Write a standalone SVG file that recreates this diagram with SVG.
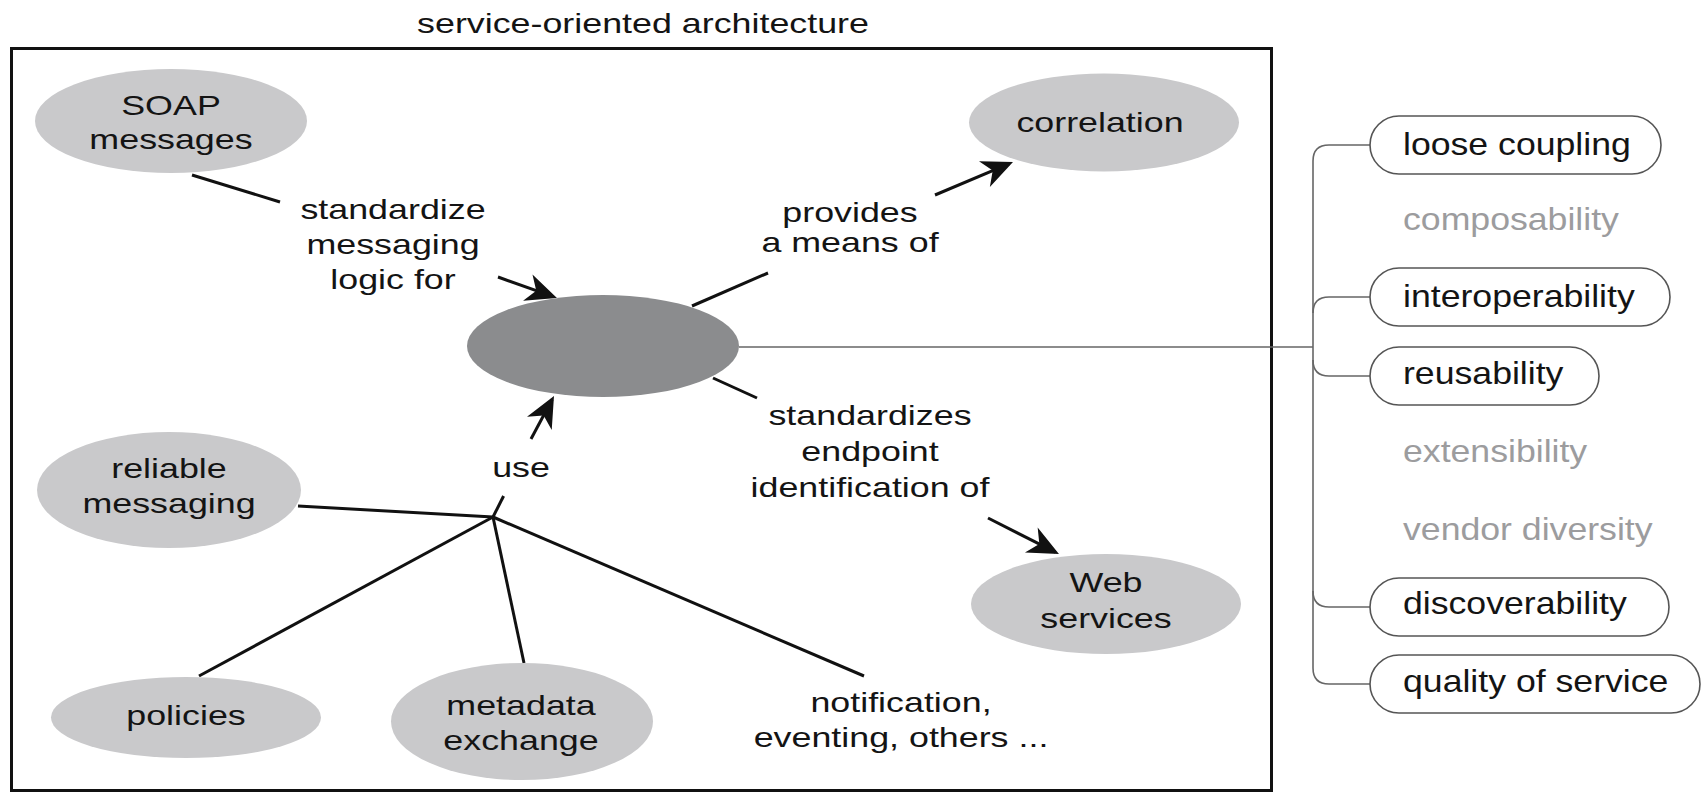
<svg xmlns="http://www.w3.org/2000/svg" width="1704" height="794" viewBox="0 0 1704 794">
<style>
.lt{font-family:"Liberation Sans",Arial,sans-serif;font-size:28px;fill:#141414;text-anchor:middle}
.pt{font-family:"Liberation Sans",Arial,sans-serif;font-size:31px;fill:#141414}
.gt{font-family:"Liberation Sans",Arial,sans-serif;font-size:31px;fill:#9c9c9e}
.ell{fill:#c9c9cb}
.core{fill:#8b8c8e}
.pill{fill:#ffffff;stroke:#555;stroke-width:1.6}
.ln{stroke:#111;stroke-width:3;fill:none}
.arr{stroke:#111;stroke-width:3;fill:none;marker-end:url(#ah)}
.br{stroke:#666;stroke-width:1.6;fill:none}
</style>
<defs>
<marker id="ah" markerUnits="userSpaceOnUse" orient="auto" refX="-4" refY="0" markerWidth="40" markerHeight="40" overflow="visible">
<path d="M0,0 L-31,-14 L-22,0 L-31,14 Z" fill="#111"/>
</marker>
</defs>
<rect width="1704" height="794" fill="#ffffff"/>

<g id="title">
<text class="lt" transform="translate(643,33) scale(1.28,1)">service-oriented architecture</text>
</g>
<g id="soa-frame">
<rect x="11.5" y="48.5" width="1260" height="742" fill="none" stroke="#111" stroke-width="3"/>
</g>

<g id="connectors">
<line class="ln" x1="192" y1="175" x2="280" y2="202"/>
<line class="arr" x1="498" y1="277" x2="553.2" y2="296.7"/>
<line class="ln" x1="692" y1="306" x2="768" y2="273"/>
<line class="arr" x1="935" y1="195" x2="1009.3" y2="163.6"/>
<line class="ln" x1="713" y1="378" x2="757" y2="398"/>
<line class="arr" x1="988" y1="518" x2="1055.4" y2="552.2"/>
<line class="arr" x1="531" y1="439" x2="552.1" y2="399.5"/>
<line class="ln" x1="503.6" y1="496" x2="493" y2="517"/>
<line class="ln" x1="493" y1="517" x2="298" y2="506"/>
<line class="ln" x1="493" y1="517" x2="199" y2="676"/>
<line class="ln" x1="493" y1="517" x2="524" y2="663"/>
<line class="ln" x1="493" y1="517" x2="864" y2="676"/>
<path class="br" d="M739,347 H1313"/>
<path class="br" d="M1370,145 H1329 Q1313,145 1313,161 V668 Q1313,684 1329,684 H1370"/>
<path class="br" d="M1313,313 Q1313,297 1329,297 H1370"/>
<path class="br" d="M1313,360 Q1313,376 1329,376 H1370"/>
<path class="br" d="M1313,591 Q1313,607 1329,607 H1370"/>
</g>

<g id="soap-messages">
<ellipse class="ell" cx="171" cy="121" rx="136" ry="52"/>
<text class="lt" transform="translate(171,115) scale(1.28,1)">SOAP</text>
<text class="lt" transform="translate(171,149) scale(1.28,1)">messages</text>
</g>
<g id="correlation">
<ellipse class="ell" cx="1104" cy="122.5" rx="135" ry="49"/>
<text class="lt" transform="translate(1100,132) scale(1.28,1)">correlation</text>
</g>
<g id="core">
<ellipse class="core" cx="603" cy="346" rx="136" ry="51"/>
</g>
<g id="web-services">
<ellipse class="ell" cx="1106" cy="604" rx="135" ry="50"/>
<text class="lt" transform="translate(1106,592) scale(1.28,1)">Web</text>
<text class="lt" transform="translate(1106,628) scale(1.28,1)">services</text>
</g>
<g id="reliable-messaging">
<ellipse class="ell" cx="169" cy="490" rx="132" ry="58"/>
<text class="lt" transform="translate(169,478) scale(1.28,1)">reliable</text>
<text class="lt" transform="translate(169,513) scale(1.28,1)">messaging</text>
</g>
<g id="policies">
<ellipse class="ell" cx="186" cy="717.5" rx="135" ry="40.5"/>
<text class="lt" transform="translate(186,725) scale(1.28,1)">policies</text>
</g>
<g id="metadata-exchange">
<ellipse class="ell" cx="522" cy="721.5" rx="131" ry="58.5"/>
<text class="lt" transform="translate(521,715) scale(1.28,1)">metadata</text>
<text class="lt" transform="translate(521,750) scale(1.28,1)">exchange</text>
</g>
<g id="notification-eventing">
<text class="lt" transform="translate(901,712) scale(1.28,1)">notification,</text>
<text class="lt" transform="translate(901,747) scale(1.28,1)">eventing, others ...</text>
</g>

<g id="label-standardize">
<text class="lt" transform="translate(393,219) scale(1.28,1)">standardize</text>
<text class="lt" transform="translate(393,254) scale(1.28,1)">messaging</text>
<text class="lt" transform="translate(393,289) scale(1.28,1)">logic for</text>
</g>
<g id="label-provides">
<text class="lt" transform="translate(850,222) scale(1.28,1)">provides</text>
<text class="lt" transform="translate(850,252) scale(1.28,1)">a means of</text>
</g>
<g id="label-standardizes">
<text class="lt" transform="translate(870,425) scale(1.28,1)">standardizes</text>
<text class="lt" transform="translate(870,461) scale(1.28,1)">endpoint</text>
<text class="lt" transform="translate(870,497) scale(1.28,1)">identification of</text>
</g>
<g id="label-use">
<text class="lt" transform="translate(521,477) scale(1.28,1)">use</text>
</g>

<g id="loose-coupling">
<rect class="pill" x="1370" y="116" width="291" height="58" rx="29"/>
<text class="pt" transform="translate(1403,155) scale(1.15,1)">loose coupling</text>
</g>
<g id="composability">
<text class="gt" transform="translate(1403,230) scale(1.15,1)">composability</text>
</g>
<g id="interoperability">
<rect class="pill" x="1370" y="268" width="300" height="58" rx="29"/>
<text class="pt" transform="translate(1403,307) scale(1.15,1)">interoperability</text>
</g>
<g id="reusability">
<rect class="pill" x="1370" y="347" width="229" height="58" rx="29"/>
<text class="pt" transform="translate(1403,384) scale(1.15,1)">reusability</text>
</g>
<g id="extensibility">
<text class="gt" transform="translate(1403,462) scale(1.15,1)">extensibility</text>
</g>
<g id="vendor-diversity">
<text class="gt" transform="translate(1403,540) scale(1.15,1)">vendor diversity</text>
</g>
<g id="discoverability">
<rect class="pill" x="1370" y="578" width="299" height="58" rx="29"/>
<text class="pt" transform="translate(1403,614) scale(1.15,1)">discoverability</text>
</g>
<g id="quality-of-service">
<rect class="pill" x="1370" y="655" width="330" height="58" rx="29"/>
<text class="pt" transform="translate(1403,692) scale(1.15,1)">quality of service</text>
</g>
</svg>
